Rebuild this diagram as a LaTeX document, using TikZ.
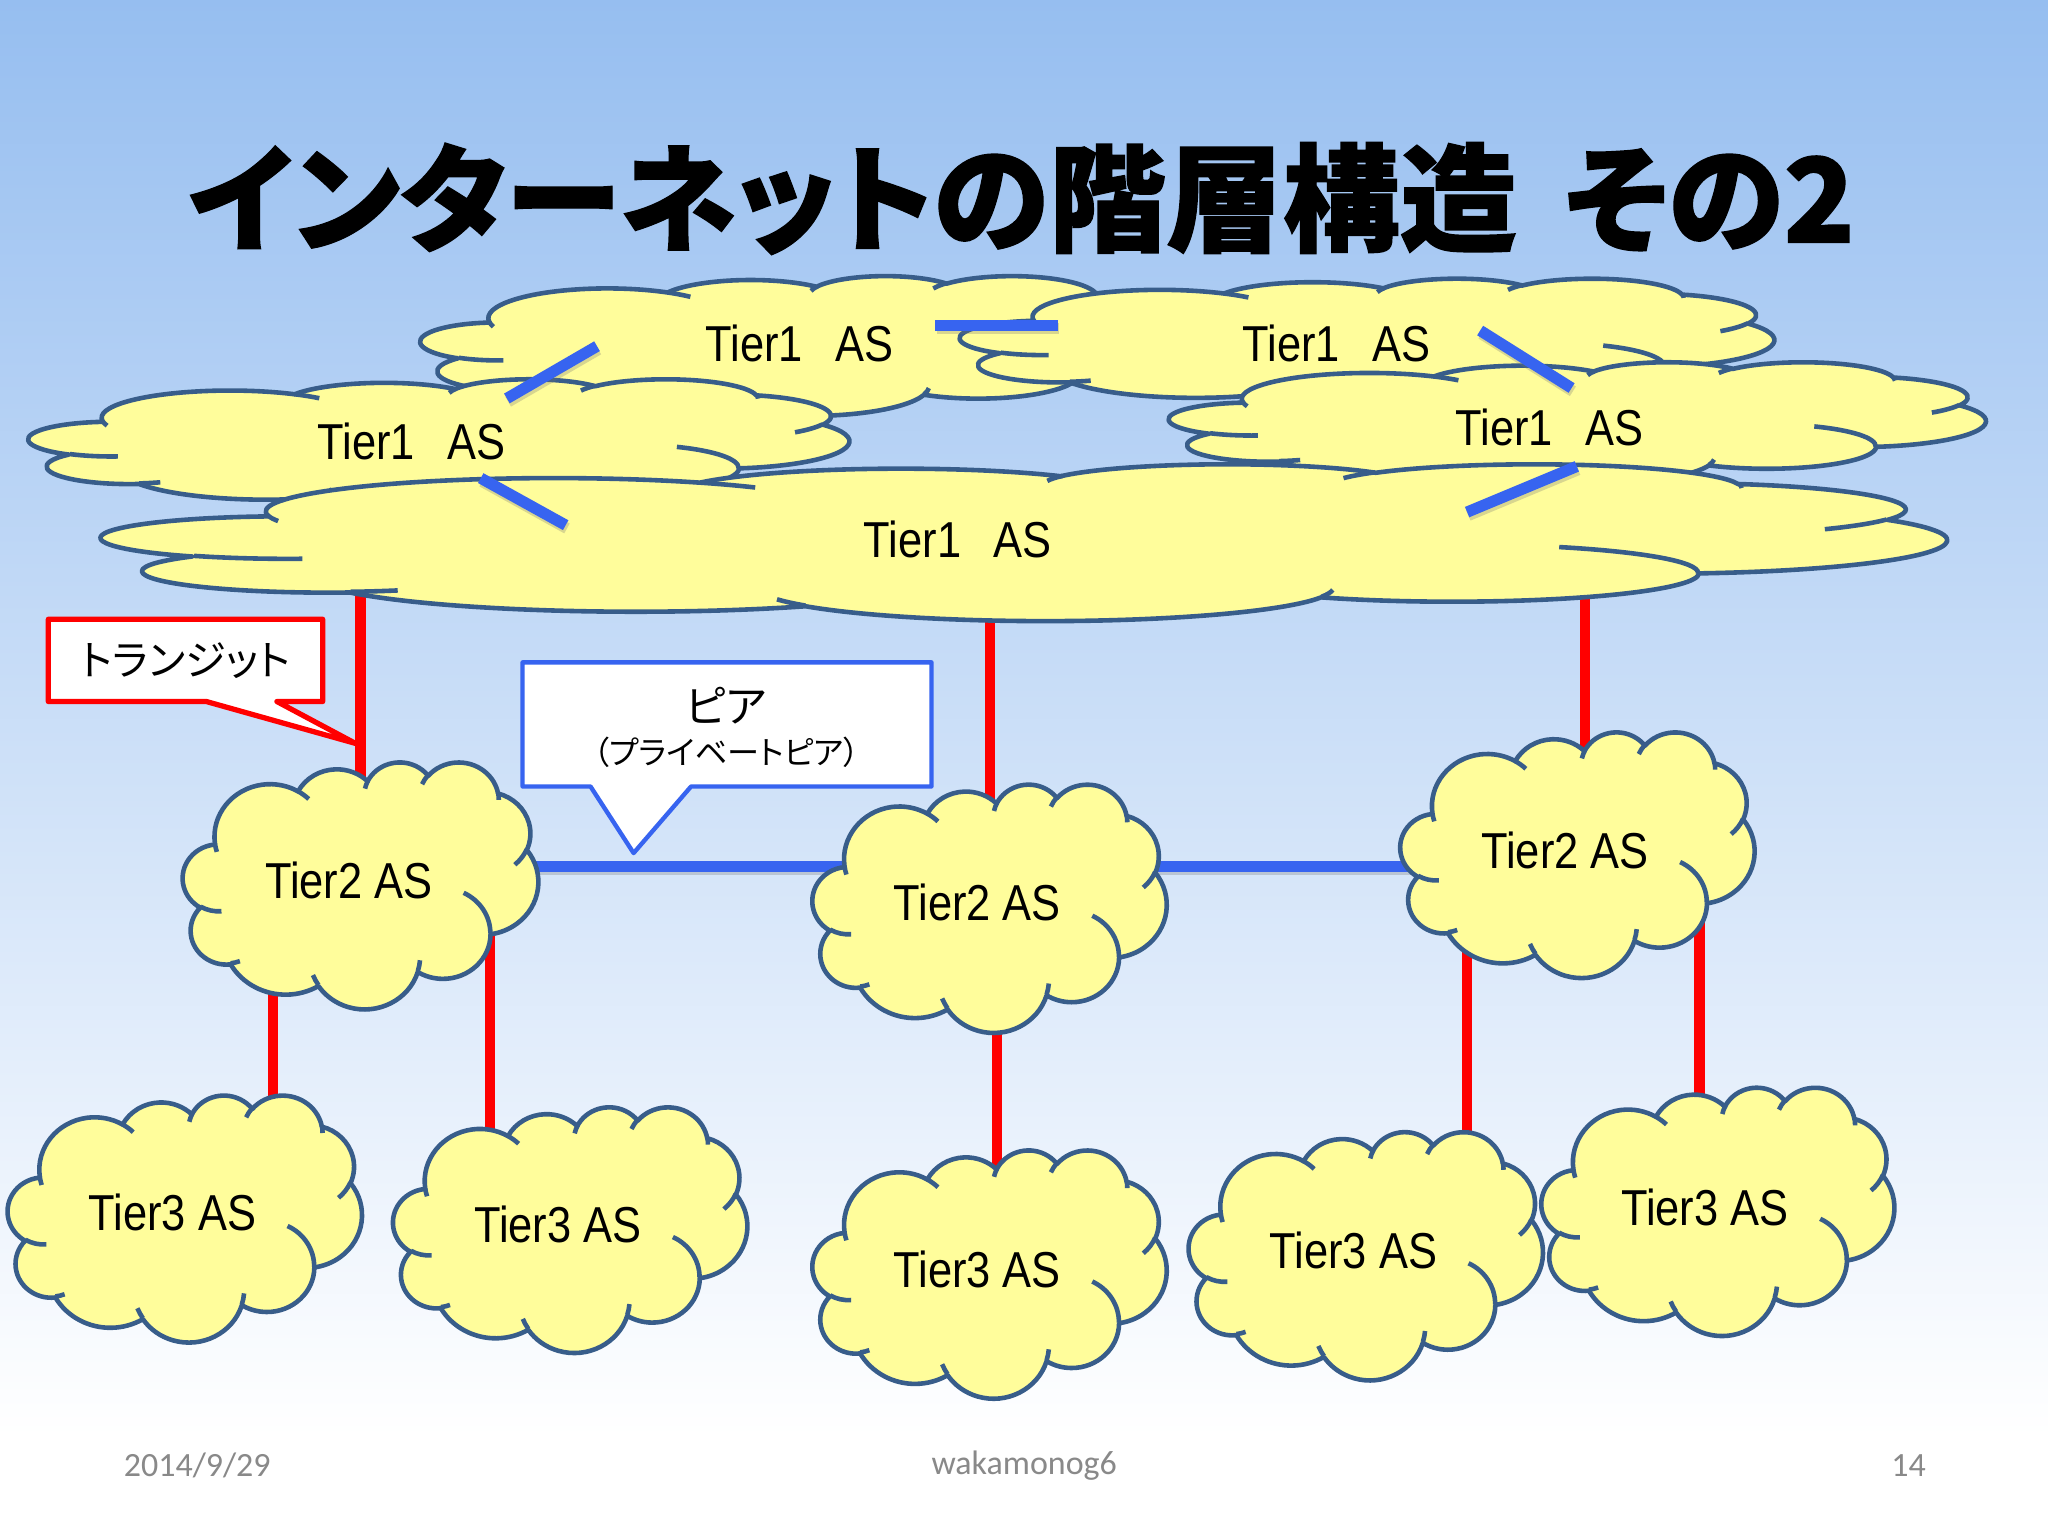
\documentclass[tikz,border=0pt]{standalone}
\usepackage{fontspec}
\setmainfont{Liberation Sans}
\newfontfamily\tierfont[FakeStretch=0.86]{Liberation Sans}
\newfontfamily\jpfont[RawFeature=+palt]{Noto Sans CJK JP}
\newfontfamily\jptitle[RawFeature=+palt, BoldFeatures={FakeBold=1.2}]{Noto Sans CJK JP}
\newfontfamily\footfont{Carlito}
\definecolor{bgtop}{RGB}{150,190,240}
\definecolor{cloudfill}{RGB}{255,253,155}
\definecolor{cloudline}{RGB}{56,93,138}
\definecolor{peerblue}{RGB}{55,100,240}
\definecolor{transred}{RGB}{255,0,0}
\definecolor{footgray}{RGB}{137,137,137}

% DrawingML style arcTo: wR hR (1/100 of shape units) stAng swAng (degrees, real angles)
\newcommand\ooarc[4]{%
  \pgfextra{%
    \pgfmathparse{atan2((#1)*sin(#3),(#2)*cos(#3))}\xdef\ooTa{\pgfmathresult}%
    \pgfmathparse{atan2((#1)*sin((#3)+(#4)),(#2)*cos((#3)+(#4)))}\xdef\ooTb{\pgfmathresult}%
    \pgfmathparse{(#4)+mod((\ooTb)-(\ooTa)-(#4)+900,360)-180}\xdef\ooD{\pgfmathresult}%
  }%
  arc[x radius=#1, y radius=#2, start angle=\ooTa, delta angle=\ooD]%
}
\newcommand\cloudoutline{%
  (39.00,143.70)
  \ooarc{67.53}{91.90}{-190.4875}{123.7805}
  \ooarc{53.33}{72.67}{-144.1024}{89.9452}
  \ooarc{43.65}{59.45}{-145.8079}{99.7230}
  \ooarc{48.57}{65.95}{-130.9861}{117.2417}
  \ooarc{53.33}{72.73}{-78.7089}{109.0269}
  \ooarc{67.75}{92.20}{-46.2673}{130.2690}
  \ooarc{57.85}{78.67}{0.6250}{114.0333}
  \ooarc{67.52}{92.15}{22.4516}{115.1726}
  \ooarc{77.20}{105.43}{66.2426}{75.7110}
  \ooarc{43.60}{59.18}{-274.9421}{146.7356}
  \ooarc{43.45}{59.45}{-246.8285}{152.5189}
  -- cycle}
\newcommand\clouddetail{%
  (46.93,261.77) \ooarc{43.45}{59.45}{86.7420}{26.4295}
  (69.28,348.99) \ooarc{43.60}{59.18}{73.6105}{11.4475}
  (164.78,390.90) \ooarc{67.52}{92.15}{137.6242}{14.0811}
  (288.27,347.51) \ooarc{67.52}{92.15}{6.4533}{15.9984}
  (341.29,229.54) \ooarc{57.85}{78.67}{-70.2924}{70.9174}
  (417.98,153.54) \ooarc{53.33}{72.73}{30.3180}{27.7515}
  (383.24,54.26) \ooarc{48.57}{65.95}{-13.7443}{14.8589}
  (290.78,39.52) \ooarc{48.57}{65.95}{-149.1815}{18.1954}
  (221.41,47.20) \ooarc{43.65}{59.45}{-163.4943}{17.6864}
  (140.00,51.92) \ooarc{67.53}{91.90}{-66.7070}{12.3194}
  (41.27,157.89) \ooarc{67.53}{91.90}{157.6544}{11.8582}
}
\newcommand\cloudat[4]{%
  \begin{scope}[shift={(#1,#2)}, xscale={#3/432}, yscale={#4/432}]
    \filldraw[cloudbody] \cloudoutline;
    \draw[cloudedge] \clouddetail;
  \end{scope}}

\tikzset{
  cloudbody/.style={fill=cloudfill, draw=cloudline, line width=2.0pt, line join=round},
  cloudedge/.style={draw=cloudline, line width=2.0pt},
  peerline/.style={draw=peerblue, line width=4.9pt},
  peershadow/.style={draw=black!55, opacity=0.28, line width=4.9pt},
  transitline/.style={draw=transred, line width=4.5pt},
  tiertext/.style={font=\tierfont\fontsize{22}{26}\selectfont, text=black, inner sep=0pt},
  calloutred/.style={draw=transred, fill=white, line width=2.3pt, line join=round},
  calloutblue/.style={draw=peerblue, fill=white, line width=1.9pt, line join=round},
  jptext/.style={font=\jpfont\fontsize{19}{22}\selectfont, text=black, inner sep=0pt},
  jpsmall/.style={font=\jpfont\fontsize{14}{16}\selectfont, text=black, inner sep=0pt},
  foot/.style={font=\footfont\fontsize{14.8}{16}\selectfont, text=footgray, inner sep=0pt},
}

\begin{document}
\begin{tikzpicture}
\useasboundingbox (0,0) rectangle (31.36,-23.52);
\fill[white] (0,0) rectangle (31.36,-23.52);
\shade[top color=bgtop, bottom color=white] (0,-22) rectangle (31.36,0);
\begin{scope}[x=0.02cm, y=-0.02cm]
  % connector end points
  \coordinate (e1) at (276,440); \coordinate (t2a) at (276,610);
  \coordinate (e2) at (758,460); \coordinate (t2b) at (758,630);
  \coordinate (e3) at (1213,440); \coordinate (t2c) at (1213,590);
  \coordinate (s1) at (209,740); \coordinate (u1) at (209,860);
  \coordinate (s2) at (375,700); \coordinate (u2) at (375,890);
  \coordinate (s3) at (763,770); \coordinate (u3) at (763,910);
  \coordinate (s4) at (1123,715); \coordinate (u4) at (1123,890);
  \coordinate (s5) at (1301,700); \coordinate (u5) at (1301,860);
  \coordinate (pa) at (400,663); \coordinate (pb) at (660,663);
  \coordinate (pc) at (880,663); \coordinate (pd) at (1085,663);
  % transit links
  \foreach \a/\b in {e1/t2a,e2/t2b,e3/t2c,s1/u1,s2/u2,s3/u3,s4/u4,s5/u5}
    \draw[transitline] (\a) -- (\b);
  % tier2 peer links
  \foreach \a/\b in {pa/pb,pc/pd}{
    \draw[peershadow] ([shift={(1,2.5)}]\a) -- ([shift={(1,2.5)}]\b);
    \draw[peerline] (\a) -- (\b);}
  % Tier1 clouds
  \cloudat{322}{211}{583}{107}
  \cloudat{735}{213}{623}{97}
  \cloudat{22}{290}{628}{98}
  \cloudat{895}{277}{625}{93}
  \cloudat{78}{355}{1412}{120}
  % Tier2 clouds
  \cloudat{140}{583}{272}{189}
  \cloudat{622}{600}{271}{190}
  \cloudat{1072}{560}{271}{188}
  % Tier3 clouds
  \cloudat{6}{838}{271}{189}
  \cloudat{301}{847}{271}{188}
  \cloudat{622}{880}{271}{190}
  \cloudat{910}{866}{271}{190}
  \cloudat{1180}{832}{270}{190}
  % Tier1 peer links
  \coordinate (b1a) at (457,265); \coordinate (b1b) at (388,305);
  \coordinate (b2a) at (716,249); \coordinate (b2b) at (810,249);
  \coordinate (b3a) at (1133,253); \coordinate (b3b) at (1203,297);
  \coordinate (b4a) at (368,366); \coordinate (b4b) at (433,402);
  \coordinate (b5a) at (1207,357); \coordinate (b5b) at (1123,392);
  \foreach \a/\b in {b1a/b1b,b2a/b2b,b3a/b3b,b4a/b4b,b5a/b5b}{
    \draw[peershadow] ([shift={(1,2.5)}]\a) -- ([shift={(1,2.5)}]\b);
    \draw[peerline] (\a) -- (\b);}
  % callouts
  \draw[calloutred] (37,474) -- (247,474) -- (247,537) -- (212,537) -- (272,569)
     -- (158,537) -- (37,537) -- cycle;
  \draw[calloutblue] (400,507) -- (713,507) -- (713,602) -- (529,602) -- (485,653)
     -- (452,602) -- (400,602) -- cycle;
  \node[jptext, font=\jpfont\fontsize{18}{21}\selectfont] (ltr) at (142,506) {トランジット};
  \node[jptext] (lpeer) at (556,540) {ピア};
  \node[jpsmall] (lpriv) at (556,576) {（プライベートピア）};
  % labels
  \node[tiertext] (n1a) at (612,263) {Tier1\hspace{14pt}AS};
  \node[tiertext] (n1b) at (1023,263) {Tier1\hspace{14pt}AS};
  \node[tiertext] (n1c) at (315,338) {Tier1\hspace{14pt}AS};
  \node[tiertext] (n1d) at (1186,327) {Tier1\hspace{14pt}AS};
  \node[tiertext] (n1e) at (733,413) {Tier1\hspace{14pt}AS};
  \node[tiertext] (n2a) at (267,674) {Tier2 AS};
  \node[tiertext] (n2b) at (748,691) {Tier2 AS};
  \node[tiertext] (n2c) at (1198,651) {Tier2 AS};
  \node[tiertext] (n3a) at (132,928) {Tier3 AS};
  \node[tiertext] (n3b) at (427,937) {Tier3 AS};
  \node[tiertext] (n3c) at (748,972) {Tier3 AS};
  \node[tiertext] (n3d) at (1036,957) {Tier3 AS};
  \node[tiertext] (n3e) at (1305,924) {Tier3 AS};
  % title
  \node[font=\jptitle\bfseries\fontsize{51}{56}\selectfont, inner sep=0pt] (title) at (782,152)
    {インターネットの階層構造\hspace{0.4em}その2};
  % footer
  \node[foot] (fdate) at (151,1122) {2014/9/29};
  \node[foot] (fname) at (784,1122) {wakamonog6};
  \node[foot] (fpage) at (1461,1122) {14};
\end{scope}
\end{tikzpicture}
\end{document}
